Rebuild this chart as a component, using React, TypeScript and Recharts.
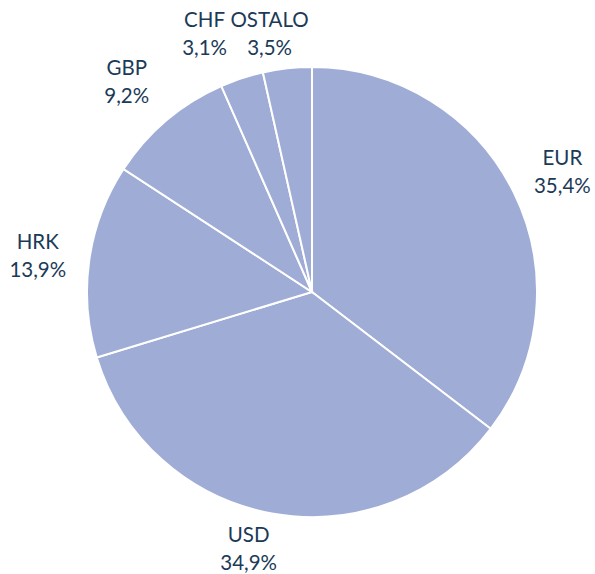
import { PieChart, Pie, Cell } from 'recharts';

const names = ['EUR', 'USD', 'HRK', 'GBP', 'CHF', 'OSTALO'];
const shares = [35.4, 34.9, 13.9, 9.2, 3.1, 3.5];

const data = names.map((name, i) => ({ name, value: shares[i] }));

// small nudges so the labels of the thin slices don't collide
const labelNudge = [
  [2, 3],
  [-14, -16],
  [0, 3],
  [-6, 1],
  [-21, 5],
  [-12, 17],
];

const RAD = Math.PI / 180;

const renderLabel = (props: any) => {
  const { cx, cy, midAngle, outerRadius, index } = props;
  const r = outerRadius + 52;
  const x = cx + r * Math.cos(-midAngle * RAD) + labelNudge[index][0];
  const y = cy + r * Math.sin(-midAngle * RAD) + labelNudge[index][1];
  const pct = shares[index].toFixed(1).replace('.', ',') + '%';
  return (
    <text
      x={x}
      y={y}
      textAnchor="middle"
      fill="#1B3A57"
      fontFamily="Lato, sans-serif"
      fontSize={20.5}
    >
      <tspan x={x} dy={-7}>{names[index]}</tspan>
      <tspan x={x} dy={28}>{pct}</tspan>
    </text>
  );
};

export default function App() {
  return (
    <div style={{ position: 'absolute', left: 0, top: 0, background: '#fff' }}>
      <PieChart width={595} height={574} margin={{ top: 0, right: 0, bottom: 0, left: 0 }}>
        <Pie
          data={data}
          dataKey="value"
          nameKey="name"
          cx={312}
          cy={292}
          outerRadius={225}
          startAngle={90}
          endAngle={-270}
          stroke="#ffffff"
          strokeWidth={2}
          label={renderLabel}
          labelLine={false}
          isAnimationActive={false}
        >
          {data.map((d) => (
            <Cell key={d.name} fill="#9FACD6" />
          ))}
        </Pie>
      </PieChart>
    </div>
  );
}
